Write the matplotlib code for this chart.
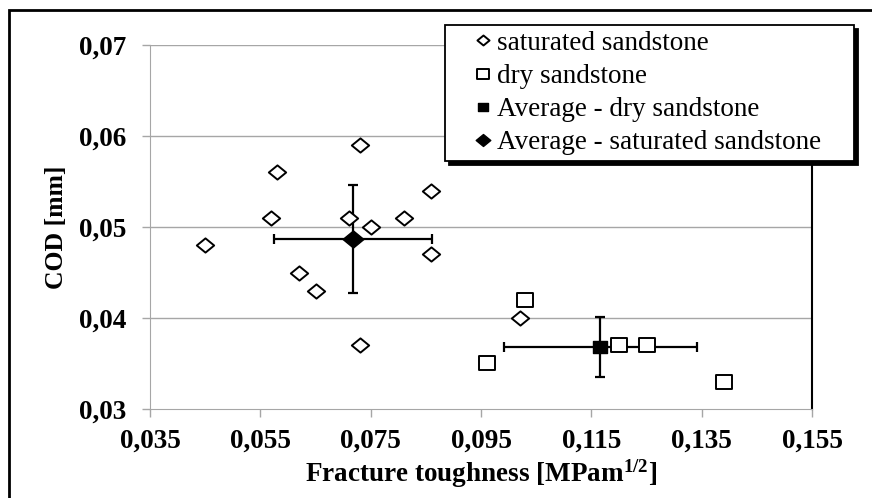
import matplotlib
matplotlib.use("Agg")
import matplotlib.pyplot as plt
import numpy as np
from matplotlib.path import Path
from matplotlib.patches import Rectangle

# ---- data ----
sat_x = [0.045, 0.058, 0.057, 0.073, 0.071, 0.075, 0.081, 0.086, 0.086, 0.062, 0.065, 0.073, 0.102]
sat_y = [0.048, 0.056, 0.051, 0.059, 0.051, 0.050, 0.051, 0.054, 0.047, 0.045, 0.043, 0.037, 0.040]
dry_x = [0.103, 0.096, 0.120, 0.125, 0.139]
dry_y = [0.042, 0.035, 0.037, 0.037, 0.033]
avg_sat = [0.0718, 0.0487]
avg_sat_err = [0.0143, 0.0059]   # x err, y err
avg_dry = [0.1166, 0.0368]
avg_dry_err = [0.0175, 0.0033]
x_ticks = [0.035, 0.055, 0.075, 0.095, 0.115, 0.135, 0.155]
x_ticklabels = ["0,035", "0,055", "0,075", "0,095", "0,115", "0,135", "0,155"]
y_ticks = [0.03, 0.04, 0.05, 0.06, 0.07]
y_ticklabels = ["0,03", "0,04", "0,05", "0,06", "0,07"]
labels = ["saturated sandstone", "dry sandstone", "Average - dry sandstone", "Average - saturated sandstone"]

plt.rcParams['font.family'] = ['Liberation Serif', 'DejaVu Serif']
plt.rcParams['mathtext.fontset'] = 'custom'
plt.rcParams['mathtext.rm'] = 'Liberation Serif'
plt.rcParams['mathtext.bf'] = 'Liberation Serif:bold'
plt.rcParams['mathtext.it'] = 'Liberation Serif:italic'

W, H = 872, 498
fig = plt.figure(figsize=(W / 100, H / 100), dpi=100)
ax = fig.add_axes([150 / W, 1 - 409 / H, 662 / W, 364 / H])

diamond = Path([(-1, 0), (0, 0.82), (1, 0), (0, -0.82), (-1, 0)],
               [Path.MOVETO, Path.LINETO, Path.LINETO, Path.LINETO, Path.CLOSEPOLY])
square = Path([(-1, -0.82), (1, -0.82), (1, 0.82), (-1, 0.82), (-1, -0.82)],
              [Path.MOVETO, Path.LINETO, Path.LINETO, Path.LINETO, Path.CLOSEPOLY])

grid_c = '#a6a6a6'
for y in y_ticks[1:]:
    ax.axhline(y, color=grid_c, lw=1.0, zorder=1)

# error bars
ax.errorbar([avg_sat[0]], [avg_sat[1]], xerr=[avg_sat_err[0]], yerr=[avg_sat_err[1]],
            fmt='none', ecolor='black', elinewidth=1.6, capsize=3.5, capthick=1.6, zorder=3)
ax.errorbar([avg_dry[0]], [avg_dry[1]], xerr=[avg_dry_err[0]], yerr=[avg_dry_err[1]],
            fmt='none', ecolor='black', elinewidth=1.6, capsize=3.5, capthick=1.6, zorder=3)

h1, = ax.plot(sat_x, sat_y, linestyle='none', marker=diamond, markersize=12.5,
              markerfacecolor='white', markeredgecolor='black', markeredgewidth=1.4, zorder=4)
h2, = ax.plot(dry_x, dry_y, linestyle='none', marker=square, markersize=11.5,
              markerfacecolor='white', markeredgecolor='black', markeredgewidth=1.4, zorder=4)
h3, = ax.plot([avg_dry[0]], [avg_dry[1]], linestyle='none', marker=square, markersize=10,
              markerfacecolor='black', markeredgecolor='black', zorder=5)
h4, = ax.plot([avg_sat[0]], [avg_sat[1]], linestyle='none', marker=diamond, markersize=15,
              markerfacecolor='black', markeredgecolor='black', zorder=5)

ax.set_xlim(0.035, 0.155)
ax.set_ylim(0.03, 0.07)
ax.set_xticks(x_ticks)
ax.set_xticklabels(x_ticklabels)
ax.set_yticks(y_ticks)
ax.set_yticklabels(y_ticklabels)
for lab in ax.get_xticklabels() + ax.get_yticklabels():
    lab.set_fontweight('bold')
    lab.set_fontsize(19.5)
ax.tick_params(axis='both', colors=grid_c, length=6, width=1.0, labelcolor='black')
ax.tick_params(axis='y', pad=11)
ax.tick_params(axis='x', pad=8)

ax.spines['top'].set_visible(False)
ax.spines['left'].set_color(grid_c)
ax.spines['bottom'].set_color(grid_c)
ax.spines['right'].set_color('black')
ax.spines['right'].set_linewidth(1.5)

ax.set_xlabel("Fracture toughness [MPam$^{\\mathbf{1/2}}$]", fontsize=19.5, fontweight='bold', labelpad=3)
ax.set_ylabel("COD [mm]", fontsize=18.5, fontweight='bold', labelpad=8)

leg = fig.legend([h1, h2, h3, h4], labels, loc='upper left', mode='expand',
                 bbox_to_anchor=(445 / W, 1 - 155 / H, 409 / W, 130 / H), fontsize=19.5,
                 frameon=True, fancybox=False, edgecolor='black',
                 shadow={'color': 'black', 'alpha': 1.0, 'ox': 3, 'oy': -3},
                 handlelength=2.4, handletextpad=-0.7, labelspacing=0.3,
                 borderpad=0.22, borderaxespad=0, markerscale=0.7)
leg.get_frame().set_linewidth(1.3)
leg.get_frame().set_alpha(1.0)

# outer frame (cropped on the right and bottom)
fig.add_artist(Rectangle((9 / W, -0.2), 2.0, 1.2 - 10 / H, transform=fig.transFigure,
                         fill=False, edgecolor='black', linewidth=2.0))

fig.savefig("out.png", dpi=100)
